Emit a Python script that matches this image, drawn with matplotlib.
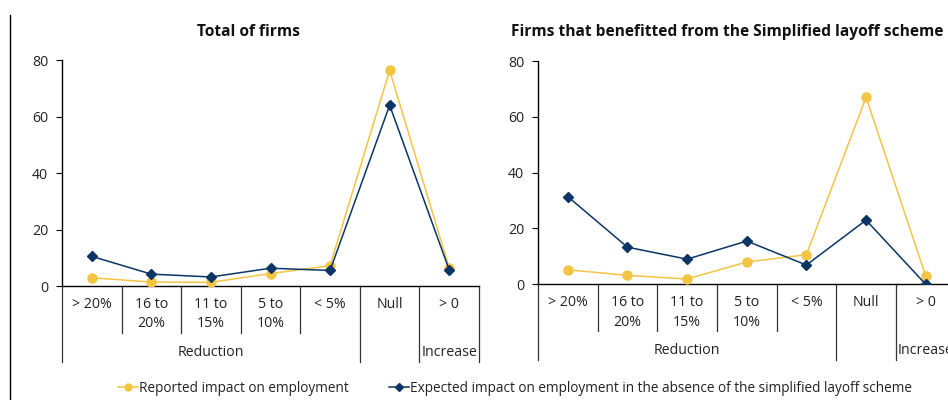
import matplotlib
matplotlib.use("Agg")
import matplotlib.pyplot as plt
from matplotlib.lines import Line2D

plt.rcParams['font.family'] = ['Open Sans', 'DejaVu Sans']

categories = ["> 20%", "16 to\n20%", "11 to\n15%", "5 to\n10%", "< 5%", "Null", "> 0"]
groups = [("Reduction", 0, 4), ("", 5, 5), ("Increase", 6, 6)]

total_reported = [2.9, 1.4, 1.3, 4.4, 7.2, 76.3, 6.4]
total_expected = [10.5, 4.2, 3.2, 6.3, 5.5, 64.0, 5.7]

scheme_reported = [5.2, 3.2, 1.9, 8.0, 10.6, 67.0, 3.0]
scheme_expected = [31.4, 13.3, 9.0, 15.5, 6.9, 23.0, 0.0]

yticks = [0, 20, 40, 60, 80]

YELLOW = "#F4C443"
NAVY = "#0B3565"
W, H = 948, 400

fig = plt.figure(figsize=(W / 100, H / 100), dpi=100)

# pixel boxes: (left, right, y of 0, y of 80)
panels = [
    ("Total of firms", total_reported, total_expected, (62, 479, 286, 60), 248),
    ("Firms that benefitted from the Simplified layoff scheme",
     scheme_reported, scheme_expected, (538, 955.5, 284.3, 61), 727),
]

for title, rep, exp, (l, r, y0, y80), tx in panels:
    ax = fig.add_axes([l / W, (H - y0) / H, (r - l) / W, (y0 - y80) / H])
    hpx = y0 - y80
    x = list(range(len(categories)))
    ax.plot(x, rep, color=YELLOW, lw=1.1, marker="o", ms=6.5, mec=YELLOW, mfc=YELLOW, zorder=3)
    ax.plot(x, exp, color=NAVY, lw=1.1, marker="D", ms=5.5, mec=NAVY, mfc=NAVY, zorder=4)
    ax.set_xlim(-0.5, len(categories) - 0.5)
    ax.set_ylim(0, 80)
    ax.set_yticks(yticks)
    ax.tick_params(axis="y", direction="out", length=4, width=0.8, labelsize=10.2,
                   labelcolor="#222222", color="black", pad=6)
    ax.set_xticks([])
    for s in ["top", "right"]:
        ax.spines[s].set_visible(False)
    ax.spines["left"].set_linewidth(1.0)
    ax.spines["bottom"].set_linewidth(1.0)

    tr = ax.get_xaxis_transform()

    def fy(dpx):
        return -dpx / hpx

    # category labels
    for i, c in enumerate(categories):
        ax.text(i, fy(11), c, transform=tr, ha="center", va="top", fontsize=10.2,
                color="#222222", linespacing=1.4, clip_on=False)
    # separators
    outer = [-0.5] + [g[2] + 0.5 for g in groups]
    for k in range(len(categories) + 1):
        xs = k - 0.5
        depth = 76 if xs in outer else 47
        ax.add_line(Line2D([xs, xs], [0, fy(depth)], transform=tr, color="#333333",
                           lw=0.9, clip_on=False))
    # group labels
    for name, a, b in groups:
        if name:
            ax.text((a + b) / 2, fy(59), name, transform=tr, ha="center", va="top",
                    fontsize=10.2, color="#222222", clip_on=False)

    fig.text(tx / W, 1 - 32 / H, title, ha="center", va="center", fontsize=11.2,
             fontweight="bold", color="#111111")

# left border line
fig.add_artist(Line2D([10 / W, 10 / W], [0, 1 - 15 / H], transform=fig.transFigure,
                      color="black", lw=1.0))

handles = [
    Line2D([], [], color=YELLOW, lw=1.1, marker="o", ms=5, mfc=YELLOW, mec=YELLOW),
    Line2D([], [], color=NAVY, lw=1.1, marker="D", ms=4, mfc=NAVY, mec=NAVY),
]
labels = ["Reported impact on employment",
          "Expected impact on employment in the absence of the simplified layoff scheme"]
fig.legend(handles, labels, loc="center", bbox_to_anchor=(515 / W, 1 - 388 / H), ncol=2,
           frameon=False, fontsize=9.8, handlelength=1.5, handletextpad=0.1,
           columnspacing=2.9, labelcolor="#222222")

fig.savefig("out.png", dpi=100)
